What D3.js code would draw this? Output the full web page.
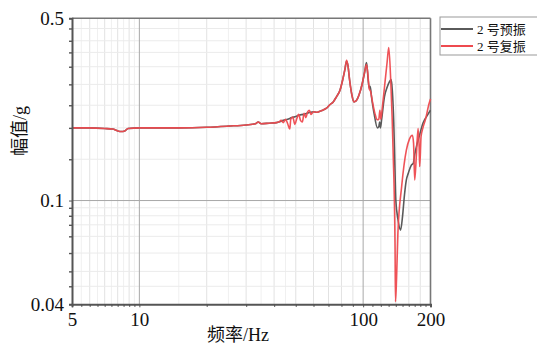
<!DOCTYPE html>
<html><head><meta charset="utf-8">
<script src="https://cdn.jsdelivr.net/npm/d3@7/dist/d3.min.js"></script>
<style>
html,body{margin:0;padding:0;background:#fff;}
svg{display:block;}
</style>
</head><body>
<svg id="chart" width="537" height="344"></svg>
<script>
// ---------- data ----------
const seriesNames = ["2 号预振", "2 号复振"];
const seriesColors = ["#5a5a5a", "#ee4a4f"];

const freqPre = [5,6,7,7.6,8.0,8.3,8.6,8.9,10,15,20,25,30,33,34,35,38,41,
  42,44,46,48,50,52,54,56,58,60,62,64,66,68.6,71,73.5,76,78.8,81,83,84.3,85.5,87,89,91,93,96,99,101.5,103.5,
  104.5,105.5,106.5,107.5,109,112,115.8,117.5,118.5,119.5,121,124.5,128,131,133.5,135,137,138.5,140,143,147,150,153,156,159,164.5,167.5,170,173,178,185,192,200];
const ampPre = [0.190,0.190,0.189,0.188,0.185,0.184,0.185,0.189,0.190,0.190,0.191,0.193,0.195,0.197,0.200,0.197,0.198,0.199,
  0.200,0.203,0.205,0.208,0.210,0.213,0.214,0.216,0.218,0.219,0.218,0.220,0.222,0.226,0.233,0.239,0.250,0.265,0.290,0.320,0.342,0.330,0.290,0.255,0.239,0.241,0.255,0.280,0.310,0.338,
  0.315,0.285,0.270,0.274,0.250,0.215,0.190,0.192,0.200,0.190,0.205,0.250,0.272,0.285,0.291,0.265,0.200,0.140,0.100,0.085,0.077,0.087,0.105,0.120,0.127,0.137,0.139,0.150,0.161,0.176,0.198,0.210,0.222];

const freqPost = [5,6,7,7.6,8.0,8.3,8.6,8.9,10,15,20,25,30,33,34,35,38,41,
  42,43,44,45,46,47,47.5,48.5,49.5,50.5,51.5,52.5,53.5,54.5,55.5,56.5,57.5,58.5,60,62,64,66,68.6,71,73.5,76,78.8,81,83,84.3,85.5,87,89,91,93,96,99,101.5,103.5,
  105,106.5,108,110,113,115.5,117.5,118.8,120,122,125,128,130.2,133,136.1,138.9,139.5,141,143,148.6,156,161,166,168,170,173,176,178,179,181.5,185,190,197,200];
const ampPost = [0.190,0.190,0.189,0.188,0.185,0.184,0.185,0.189,0.190,0.190,0.191,0.193,0.195,0.197,0.200,0.197,0.198,0.199,
  0.200,0.203,0.199,0.205,0.197,0.188,0.205,0.209,0.196,0.206,0.214,0.203,0.200,0.216,0.208,0.219,0.222,0.214,0.219,0.218,0.220,0.222,0.226,0.233,0.239,0.250,0.265,0.290,0.320,0.345,0.330,0.290,0.255,0.239,0.241,0.255,0.280,0.310,0.332,
  0.305,0.268,0.262,0.240,0.215,0.204,0.205,0.222,0.205,0.230,0.280,0.340,0.386,0.281,0.156,0.065,0.041,0.050,0.075,0.113,0.156,0.172,0.178,0.166,0.120,0.150,0.189,0.160,0.135,0.176,0.190,0.205,0.235,0.245];

const xTickValues = [5,10,100,200];
const xTickLabels = ["5","10","100","200"];
const yTickValues = [0.5,0.1,0.04];
const yTickLabels = ["0.5","0.1","0.04"];
const xMinorTicks = [5.5,6,6.5,7,7.5,8,8.5,9,9.5,20,30,40,50,60,70,80,90,110,120,130,140,150,160,170,180,190];
const xGridLight = [5.5,6.5,7.5,8.5,9.5,15,25,35,45];
const xGridMid = [6,7,8,9,20,30,40,50,60,70,80,90,120,140,160,180];
const yMinorTicks = [0.457,0.41,0.37,0.326,0.279,0.232,0.19,0.144,0.0938,0.0874,0.0807,0.0729,0.0629,0.0535,0.0469];
const xLabel = "频率/Hz";
const yLabel = "幅值/g";

// ---------- drawing ----------
const svg = d3.select("#chart");
const L = 72, R = 430.5, T = 18.3, B = 304.3;
const x = d3.scaleLog().domain([5,200]).range([L,R]);
const y = d3.scaleLog().domain([0.04,0.5]).range([B,T]);
const serif = "'Liberation Serif','Times New Roman',serif";
const cjk = "'Liberation Serif','Noto Sans CJK SC',serif";

const g = svg.append("g");
// grid
g.selectAll(".gl").data(xGridLight).enter().append("line")
  .attr("x1",d=>x(d)).attr("x2",d=>x(d)).attr("y1",T).attr("y2",B)
  .attr("stroke","#f0f0f0").attr("stroke-width",1);
g.selectAll(".gm").data(xGridMid).enter().append("line")
  .attr("x1",d=>x(d)).attr("x2",d=>x(d)).attr("y1",T).attr("y2",B)
  .attr("stroke","#e2e2e2").attr("stroke-width",1);
g.selectAll(".gy").data(yMinorTicks).enter().append("line")
  .attr("x1",L).attr("x2",R).attr("y1",d=>y(d)).attr("y2",d=>y(d))
  .attr("stroke","#ebebeb").attr("stroke-width",1);
// major grid
g.selectAll(".gxM").data([10,100]).enter().append("line")
  .attr("x1",d=>x(d)).attr("x2",d=>x(d)).attr("y1",T).attr("y2",B)
  .attr("stroke","#a8a8a8").attr("stroke-width",1);
g.append("line").attr("x1",L).attr("x2",R).attr("y1",y(0.1)).attr("y2",y(0.1))
  .attr("stroke","#a8a8a8").attr("stroke-width",1);

// frame top/right
g.append("line").attr("x1",L).attr("x2",R).attr("y1",T).attr("y2",T).attr("stroke","#777").attr("stroke-width",1.6);
g.append("line").attr("x1",R).attr("x2",R).attr("y1",T).attr("y2",B).attr("stroke","#777").attr("stroke-width",1.6);

// series
const line = d3.line().x(d=>x(d[0])).y(d=>y(d[1])).curve(d3.curveMonotoneX);
const dPre = freqPre.map((f,i)=>[f,ampPre[i]]);
const dPost = freqPost.map((f,i)=>[f,ampPost[i]]);
g.append("path").attr("d",line(dPre)).attr("fill","none").attr("stroke",seriesColors[0]).attr("stroke-width",1.6);
g.append("path").attr("d",line(dPost)).attr("fill","none").attr("stroke",seriesColors[1]).attr("stroke-width",1.6).attr("stroke-opacity",0.95);

// axes
const xAxis = d3.axisBottom(x).tickValues(xTickValues).tickFormat((d,i)=>xTickLabels[i]).tickSize(3).tickPadding(5);
const xa = svg.append("g").attr("transform",`translate(0,${B})`).call(xAxis);
xa.select(".domain").attr("stroke","#555").attr("stroke-width",2);
xa.selectAll(".tick line").attr("stroke","#555");
xa.selectAll(".tick text").attr("font-family",serif).attr("font-size",19).attr("fill","#111");
const xm = d3.axisBottom(x).tickValues(xMinorTicks).tickFormat("").tickSize(2.5);
const xma = svg.append("g").attr("transform",`translate(0,${B})`).call(xm);
xma.select(".domain").remove();
xma.selectAll(".tick line").attr("stroke","#555").attr("stroke-width",1.2);

const yAxis = d3.axisLeft(y).tickValues(yTickValues).tickFormat((d,i)=>yTickLabels[i]).tickSize(3).tickPadding(5);
const ya = svg.append("g").attr("transform",`translate(${L},0)`).call(yAxis);
ya.select(".domain").attr("stroke","#555").attr("stroke-width",2);
ya.selectAll(".tick line").attr("stroke","#555");
ya.selectAll(".tick text").attr("font-family",serif).attr("font-size",19).attr("fill","#111");
const ym = d3.axisLeft(y).tickValues(yMinorTicks).tickFormat("").tickSize(3);
const yma = svg.append("g").attr("transform",`translate(${L},0)`).call(ym);
yma.select(".domain").remove();
yma.selectAll(".tick line").attr("stroke","#555").attr("stroke-width",1.4);

// labels
svg.append("text").attr("x",238).attr("y",341).attr("text-anchor","middle")
  .attr("font-family",cjk).attr("font-size",18).attr("fill","#111").text(xLabel);
svg.append("text").attr("transform","translate(26,131) rotate(-90)").attr("text-anchor","middle")
  .attr("font-family",cjk).attr("font-size",18).attr("fill","#111").text(yLabel);

// legend
const lg = svg.append("g");
lg.append("rect").attr("x",440).attr("y",17).attr("width",110).attr("height",38)
  .attr("fill","#fff").attr("stroke","#999").attr("stroke-width",1);
seriesNames.forEach((n,i)=>{
  const yy = 29 + i*17;
  lg.append("line").attr("x1",441).attr("x2",473).attr("y1",yy).attr("y2",yy)
    .attr("stroke",seriesColors[i]).attr("stroke-width",2);
  lg.append("text").attr("x",477).attr("y",yy+4.5).attr("font-family",cjk)
    .attr("font-size",13).attr("fill","#111").text(n);
});
</script>
</body></html>
